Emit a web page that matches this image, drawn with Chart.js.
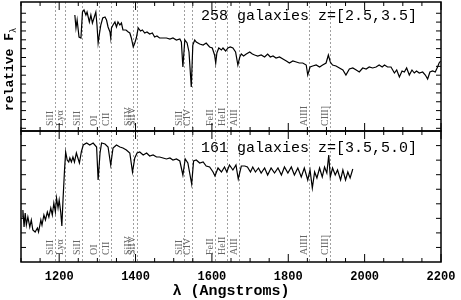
<!DOCTYPE html>
<html>
<head>
<meta charset="utf-8">
<script src="https://cdn.jsdelivr.net/npm/chart.js@4.4.0/dist/chart.umd.min.js"></script>
<style>
  html, body { margin: 0; padding: 0; background: #fff; }
  #wrap { width: 461px; height: 300px; }
</style>
</head>
<body>
<div id="wrap"><canvas id="chart"></canvas></div>
<script>
// SPECTRA

// top panel: 258 galaxies z=[2.5,3.5]
const topWave = [1241, 1244, 1247, 1252, 1257, 1261, 1265, 1270, 1273, 1279, 1283, 1287, 1292, 1296, 1299, 1302, 1305, 1309, 1314, 1320,
  1324, 1328, 1333, 1335, 1337, 1341, 1346, 1350, 1354, 1359, 1363, 1367, 1375, 1381, 1385, 1389, 1394, 1398, 1402, 1407,
  1413, 1418, 1424, 1430, 1437, 1444, 1450, 1456, 1463, 1472, 1481, 1490, 1498, 1507, 1516, 1520, 1524, 1529, 1535, 1540,
  1546, 1550, 1555, 1559, 1568, 1577, 1585, 1594, 1601, 1607, 1610, 1613, 1618, 1625, 1629, 1636, 1642, 1648, 1655, 1662,
  1668, 1673, 1677, 1683, 1690, 1699, 1706, 1712, 1720, 1729, 1738, 1746, 1753, 1760, 1768, 1777, 1786, 1795, 1803, 1812,
  1821, 1829, 1838, 1847, 1851, 1857, 1864, 1873, 1882, 1890, 1899, 1905, 1910, 1916, 1925, 1934, 1943, 1951, 1960, 1969,
  1978, 1986, 1995, 2004, 2012, 2021, 2030, 2038, 2046, 2052, 2060, 2069, 2078, 2084, 2091, 2098, 2104, 2110, 2117, 2124,
  2130, 2136, 2143, 2152, 2159, 2165, 2171, 2178, 2185, 2191, 2195, 2199];
const topFlux = [1.16, 1.03, 1.11, 0.94, 0.93, 1.19, 1.21, 1.16, 1.19, 1.09, 1.16, 1.08, 1.14, 1.19, 1.06, 0.88, 0.96, 1.06, 1.13, 1.14,
  1.11, 1.04, 0.99, 0.93, 1.03, 1.06, 1.09, 1.04, 1.09, 1.06, 1.08, 1.01, 1.01, 0.99, 0.98, 0.93, 0.84, 0.88, 0.93, 1.03,
  1.00, 1.01, 0.98, 0.99, 0.97, 0.98, 0.94, 0.95, 0.93, 0.93, 0.93, 0.92, 0.93, 0.91, 0.92, 0.89, 0.64, 0.91, 0.88, 0.79,
  0.44, 0.86, 0.91, 0.89, 0.87, 0.86, 0.88, 0.84, 0.83, 0.76, 0.68, 0.78, 0.83, 0.81, 0.83, 0.80, 0.83, 0.84, 0.83, 0.79,
  0.66, 0.74, 0.77, 0.75, 0.77, 0.79, 0.77, 0.76, 0.75, 0.76, 0.74, 0.77, 0.74, 0.75, 0.73, 0.74, 0.72, 0.70, 0.68, 0.70,
  0.69, 0.68, 0.68, 0.66, 0.56, 0.64, 0.65, 0.66, 0.64, 0.66, 0.68, 0.76, 0.69, 0.66, 0.65, 0.63, 0.61, 0.56, 0.62, 0.63,
  0.61, 0.59, 0.63, 0.62, 0.64, 0.63, 0.64, 0.66, 0.64, 0.66, 0.64, 0.64, 0.58, 0.61, 0.54, 0.60, 0.59, 0.63, 0.56, 0.61,
  0.58, 0.60, 0.58, 0.59, 0.56, 0.52, 0.59, 0.60, 0.59, 0.64, 0.68, 0.70];

// bottom panel: 161 galaxies z=[3.5,5.0]
const botWave = [1103, 1105, 1108, 1111, 1114, 1118, 1123, 1127, 1131, 1137, 1143, 1146, 1152, 1155, 1160, 1164, 1169, 1173, 1178, 1182,
  1186, 1190, 1193, 1197, 1200, 1204, 1207, 1210, 1214, 1217, 1221, 1225, 1228, 1232, 1236, 1240, 1245, 1249, 1253, 1258,
  1263, 1272, 1280, 1289, 1298, 1302, 1307, 1311, 1320, 1328, 1335, 1341, 1350, 1359, 1367, 1376, 1385, 1392, 1398, 1404,
  1411, 1420, 1429, 1437, 1446, 1455, 1463, 1472, 1481, 1490, 1498, 1507, 1516, 1524, 1530, 1537, 1547, 1552, 1559, 1568,
  1577, 1585, 1594, 1603, 1608, 1616, 1625, 1633, 1639, 1646, 1655, 1663, 1669, 1677, 1686, 1693, 1701, 1707, 1714, 1722,
  1729, 1738, 1746, 1755, 1764, 1773, 1782, 1790, 1799, 1808, 1816, 1825, 1834, 1842, 1851, 1857, 1863, 1869, 1875, 1882,
  1889, 1895, 1901, 1906, 1910, 1916, 1923, 1929, 1937, 1943, 1950, 1956, 1962, 1969];
const botFlux = [0.45, 0.52, 0.35, 0.49, 0.37, 0.45, 0.35, 0.42, 0.32, 0.30, 0.34, 0.30, 0.42, 0.37, 0.47, 0.42, 0.50, 0.45, 0.54, 0.47,
  0.59, 0.50, 0.64, 0.54, 0.62, 0.50, 0.36, 0.62, 0.92, 1.10, 1.02, 1.00, 1.04, 1.00, 1.05, 1.00, 1.09, 1.04, 0.99, 1.10,
  1.17, 1.19, 1.17, 1.19, 1.15, 0.82, 1.09, 1.19, 1.18, 1.15, 0.97, 1.14, 1.17, 1.15, 1.14, 1.12, 1.09, 0.90, 1.04, 1.09,
  1.10, 1.07, 1.09, 1.06, 1.07, 1.05, 1.05, 1.04, 1.03, 1.04, 1.02, 1.03, 1.01, 0.87, 1.03, 0.99, 0.78, 1.01, 1.02, 0.99,
  1.00, 0.96, 0.95, 0.90, 0.86, 0.94, 0.90, 0.95, 0.90, 0.97, 0.92, 0.97, 0.83, 0.96, 0.96, 0.95, 0.90, 0.95, 0.90, 0.94,
  0.89, 0.94, 0.87, 0.94, 0.89, 0.94, 0.87, 0.95, 0.89, 0.95, 0.87, 0.94, 0.85, 0.94, 0.82, 0.92, 0.74, 0.90, 0.84, 0.94,
  0.85, 0.95, 0.89, 1.07, 0.85, 0.94, 0.87, 0.92, 0.82, 0.92, 0.82, 0.90, 0.84, 0.93];

// spectral features marked by dotted lines
const lineWave = [1190, 1216, 1260, 1303, 1335, 1394, 1403, 1527, 1549, 1608, 1640, 1671, 1855, 1909];
const lineName = ['SiII', 'Lyα', 'SiII', 'OI', 'CII', 'SiIV', 'SiIV', 'SiII', 'CIV', 'FeII', 'HeII', 'AlII', 'AlIII', 'CIII]'];

const panelTitles = ['258 galaxies z=[2.5,3.5]', '161 galaxies z=[3.5,5.0]'];

const toPoints = (w, f) => w.map((v, i) => ({x: v, y: f[i]}));

// dotted lines + rotated labels, under the spectra
const featurePlugin = {
    id: 'features',
    beforeDatasetsDraw(chart) {
        const {ctx, scales: {x, yTop, yBot}} = chart;
        ctx.save();
        [[yTop, 5], [yBot, 7]].forEach(([ys, gap]) => {
            lineWave.forEach((w, i) => {
                const px = Math.round(x.getPixelForValue(w)) + 0.5;
                ctx.strokeStyle = '#888';
                ctx.lineWidth = 0.8;
                ctx.setLineDash([2, 2]);
                ctx.beginPath();
                ctx.moveTo(px, ys.top);
                ctx.lineTo(px, ys.bottom);
                ctx.stroke();
                ctx.setLineDash([]);
                ctx.save();
                ctx.translate(px - 0.5, ys.bottom - gap);
                ctx.rotate(-Math.PI / 2);
                ctx.fillStyle = '#666';
                ctx.font = '10px "Liberation Serif"';
                ctx.textAlign = 'left';
                ctx.textBaseline = 'bottom';
                ctx.fillText(lineName[i], 0, 0);
                ctx.restore();
            });
        });
        ctx.restore();
    }
};

// frames with inward ticks, panel titles, y label
const framePlugin = {
    id: 'frame',
    afterDatasetsDraw(chart) {
        const {ctx, chartArea: a, scales: {x, yTop, yBot}} = chart;
        const seg = (x1, y1, x2, y2) => { ctx.beginPath(); ctx.moveTo(x1, y1); ctx.lineTo(x2, y2); ctx.stroke(); };
        ctx.save();
        ctx.strokeStyle = '#000';
        [yTop, yBot].forEach((ys, p) => {
            ctx.lineWidth = 1;
            x.ticks.forEach(t => {
                const px = x.getPixelForValue(t.value);
                const len = t.value % 200 === 0 ? 8 : 4;
                seg(px, ys.top, px, ys.top + len);
                seg(px, ys.bottom, px, ys.bottom - len);
            });
            ys.ticks.forEach(t => {
                const py = ys.getPixelForValue(t.value);
                if (py < ys.top + 2 || py > ys.bottom - 2) return;
                seg(a.left, py, a.left + 5, py);
                seg(a.right, py, a.right - 5, py);
            });
            ctx.lineWidth = 1.5;
            ctx.strokeRect(a.left, ys.top, a.right - a.left, ys.bottom - ys.top);

            ctx.fillStyle = '#000';
            ctx.font = '15px "Liberation Mono"';
            ctx.textAlign = 'right';
            ctx.textBaseline = 'alphabetic';
            ctx.fillText(panelTitles[p], a.right - 24, ys.top + (p === 0 ? 18 : 21));
        });

        // y label: relative F_lambda
        ctx.save();
        ctx.translate(10, 67);
        ctx.rotate(-Math.PI / 2);
        ctx.fillStyle = '#000';
        ctx.textBaseline = 'middle';
        ctx.textAlign = 'left';
        ctx.font = 'bold 13px "Liberation Mono"';
        const main = 'relative F';
        const w = ctx.measureText(main).width;
        ctx.fillText(main, -44, 0);
        ctx.font = '9px "Liberation Mono"';
        ctx.fillText('λ', -44 + w, 4);
        ctx.restore();
        ctx.restore();
    }
};

const ctx = document.getElementById('chart').getContext('2d');
const myChart = new Chart(ctx, {
    type: 'line',
    data: {
        datasets: [{
            label: 'z=[2.5,3.5]',
            data: toPoints(topWave, topFlux),
            yAxisID: 'yTop',
            borderColor: '#000',
            borderWidth: 1.2,
            pointRadius: 0,
            tension: 0
        }, {
            label: 'z=[3.5,5.0]',
            data: toPoints(botWave, botFlux),
            yAxisID: 'yBot',
            borderColor: '#000',
            borderWidth: 1.2,
            pointRadius: 0,
            tension: 0
        }]
    },
    options: {
        responsive: true,
        maintainAspectRatio: false,
        animation: false,
        layout: { padding: { left: 21, right: 20, top: 2, bottom: 0 } },
        plugins: { legend: { display: false }, tooltip: { enabled: false } },
        scales: {
            x: {
                type: 'linear',
                min: 1100,
                max: 2200,
                grid: { display: false },
                border: { display: false },
                ticks: {
                    stepSize: 50,
                    autoSkip: false,
                    maxRotation: 0,
                    padding: 0,
                    color: '#000',
                    font: { family: 'Liberation Mono', size: 12, weight: 'bold' },
                    callback: v => (v % 200 === 0 ? String(v) : '')
                },
                title: {
                    display: true,
                    text: 'λ (Angstroms)',
                    color: '#000',
                    font: { family: 'Liberation Mono', size: 15, weight: 'bold' },
                    padding: 0
                },
                afterFit: s => { s.height = 38; }
            },
            // stacked on the left: the axis listed last ends up on top
            yBot: {
                type: 'linear',
                position: 'left',
                stack: 'panels',
                stackWeight: 131,
                min: 0,
                max: 1.31,
                grid: { display: false },
                border: { display: false },
                ticks: { display: false, stepSize: 0.1455 },
                afterFit: s => { s.width = 0; }
            },
            yTop: {
                type: 'linear',
                position: 'left',
                stack: 'panels',
                stackWeight: 129,
                min: 0,
                max: 1.29,
                grid: { display: false },
                border: { display: false },
                ticks: { display: false },
                // tick marks of the upper frame sit slightly off zero
                afterBuildTicks: s => { s.ticks = Array.from({length: 14}, (_, k) => ({value: 0.027 + k * 0.0885})); },
                afterFit: s => { s.width = 0; }
            }
        }
    },
    plugins: [featurePlugin, framePlugin]
});
</script>
</body>
</html>
